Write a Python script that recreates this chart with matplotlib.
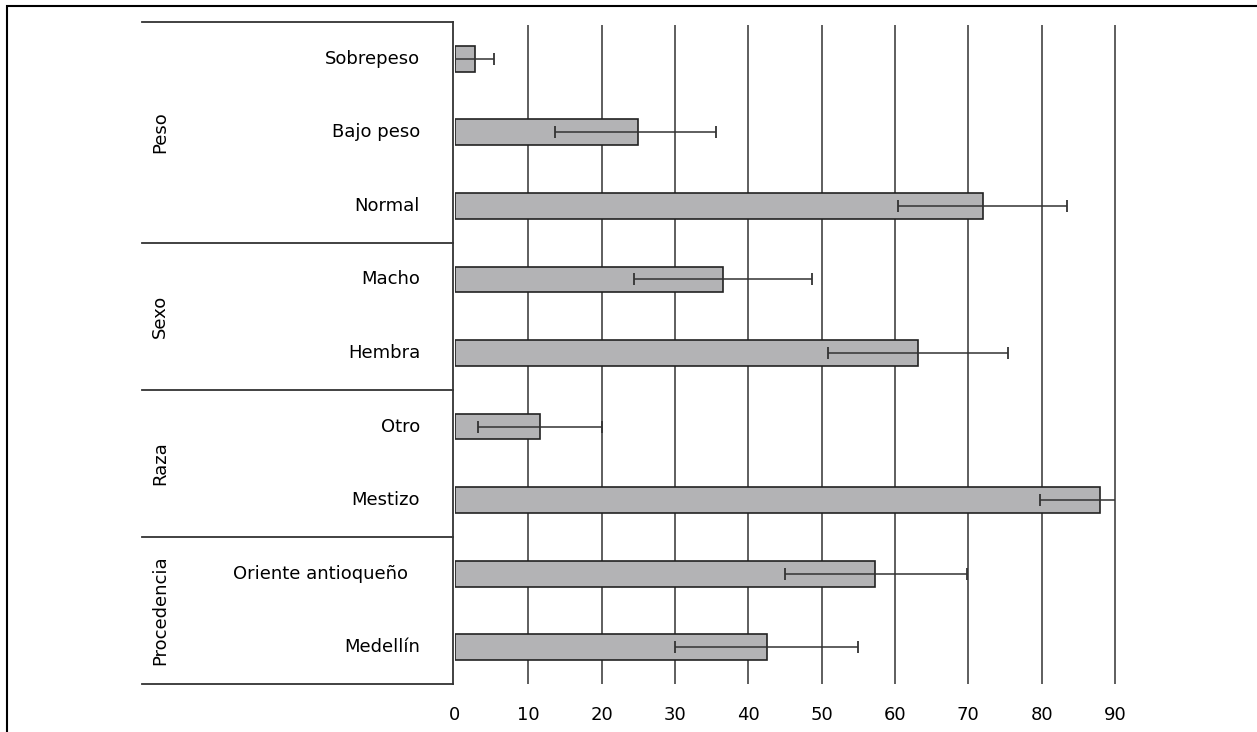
import numpy as np
import matplotlib
matplotlib.use('Agg')
import matplotlib.pyplot as plt
from matplotlib.patches import Rectangle

categories = ['Sobrepeso', 'Bajo peso', 'Normal', 'Macho', 'Hembra',
              'Otro', 'Mestizo', 'Oriente antioqueño', 'Medellín']
values = [2.7, 24.9, 72.0, 36.6, 63.2, 11.6, 88.0, 57.3, 42.6]
ci_low = [0.0, 13.6, 60.4, 24.4, 50.8, 3.1, 79.8, 45.0, 30.0]
ci_high = [5.3, 35.6, 83.5, 48.7, 75.4, 20.1, 96.0, 69.8, 55.0]
groups = ['Peso', 'Sexo', 'Raza', 'Procedencia']
group_sizes = [3, 2, 2, 2]
xticks = [0, 10, 20, 30, 40, 50, 60, 70, 80, 90]

W, H = 1257, 732
FS = 13
fig = plt.figure(figsize=(W / 100, H / 100), dpi=100)
plt.rcParams['font.family'] = ['DejaVu Sans']

# outer frame (right and bottom fall outside the picture)
fig.patches.append(Rectangle((7 / W, -0.1), 1.2, 1 - 6 / H + 0.1,
                             transform=fig.transFigure, fill=False,
                             edgecolor='black', linewidth=1.5))

x0, x1 = 455, 1115
ytop, ybot = 22, 684
ax = fig.add_axes([x0 / W, 1 - ybot / H, (x1 - x0) / W, (ybot - ytop) / H])

n = len(categories)
y = np.arange(n)
vals = np.array(values)
err = np.array([vals - np.array(ci_low), np.array(ci_high) - vals])

ax.set_xlim(0, 90)
ax.set_ylim(n - 0.5, -0.5)

# vertical grid lines
slot_px = (ybot - ytop) / n
ax.vlines(xticks[1:], n - 0.5, -0.5 + 3 / slot_px, colors='#333333',
          linewidth=1.1, zorder=1, clip_on=False)

ax.barh(y, vals, height=0.35, color='#b3b3b5', edgecolor='#222222',
        linewidth=1.2, zorder=2)
ax.errorbar(vals, y, xerr=err, fmt='none', ecolor='#333333', elinewidth=1.1,
            capsize=4.5, capthick=1.3, zorder=3)

for s in ax.spines.values():
    s.set_visible(False)
ax.set_yticks([])
ax.set_xticks(xticks)
ax.set_xticklabels([str(t) for t in xticks], fontsize=FS)
ax.tick_params(axis='x', length=0, pad=16)

# left-hand table
tab_left = (142 - x0) / (x1 - x0)
line_kw = dict(color='#333333', linewidth=1.3, clip_on=False,
               transform=ax.get_yaxis_transform())
ax.plot([-0.003, -0.003], [-0.5, n - 0.5], **line_kw)
bounds = np.concatenate([[0], np.cumsum(group_sizes)]) - 0.5
for b in bounds:
    ax.plot([tab_left, -0.003], [b, b], **line_kw)

for yi, cat in zip(y, categories):
    right_px = 408 if cat == 'Oriente antioqueño' else 420
    ax.text((right_px - x0) / (x1 - x0), yi, cat,
            transform=ax.get_yaxis_transform(),
            ha='right', va='center', fontsize=FS)

grp_x = (160 - x0) / (x1 - x0)
for g, lo, hi in zip(groups, bounds[:-1], bounds[1:]):
    ax.text(grp_x, (lo + hi) / 2, g, transform=ax.get_yaxis_transform(),
            ha='center', va='center', rotation=90, fontsize=FS)

fig.savefig('out.png', dpi=100)
